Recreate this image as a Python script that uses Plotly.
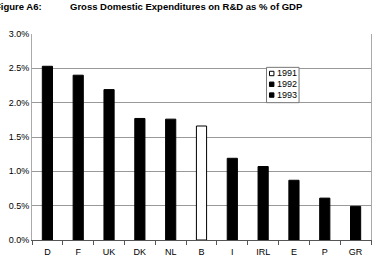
import plotly.graph_objects as go

countries = ["D", "F", "UK", "DK", "NL", "B", "I", "IRL", "E", "P", "GR"]
v1991 = [None, None, None, None, None, 1.66, None, None, None, None, None]
v1992 = [None, None, None, 1.77, 1.76, None, None, 1.07, None, 0.61, 0.49]
v1993 = [2.53, 2.40, 2.19, None, None, None, 1.19, None, 0.87, None, None]
series_names = ["1991", "1992", "1993"]
series_fill = ["white", "black", "black"]
yticks = [0, 0.5, 1.0, 1.5, 2.0, 2.5, 3.0]
yticklabels = ["0.0%", "0.5%", "1.0%", "1.5%", "2.0%", "2.5%", "3.0%"]

W, H = 381, 266
ML, MR, MT, MB = 28, 9, 34, 22
PW, PH = W - ML - MR, H - MT - MB

def px(x):
    return (x - ML) / PW

def py(y):
    return (H - MB - y) / PH

fig = go.Figure()
for name, vals, fill in zip(series_names, [v1991, v1992, v1993], series_fill):
    fig.add_bar(x=countries, y=vals, name=name, showlegend=False,
                marker=dict(color=fill, line=dict(color="black", width=1)))

fig.update_layout(
    width=W, height=H,
    margin=dict(l=ML, r=MR, t=MT, b=MB),
    barmode="overlay", bargap=0.67,
    plot_bgcolor="white", paper_bgcolor="white",
    font=dict(family="Liberation Sans, Arial", size=9, color="black"),
    showlegend=False,
)
fig.update_xaxes(showline=True, linecolor="#555", linewidth=1, ticks="outside",
                 tickson="boundaries", ticklen=4, tickcolor="#555",
                 showgrid=False, tickfont=dict(size=9), ticklabelstandoff=3)
fig.update_yaxes(range=[0, 3.0], tickvals=yticks, ticktext=yticklabels,
                 showgrid=True, gridcolor="#999", gridwidth=1,
                 showline=True, linecolor="#aaa", mirror=True,
                 ticks="", tickfont=dict(size=9), zeroline=False)

# custom compact legend
fig.add_shape(type="rect", xref="paper", yref="paper",
              x0=px(266), x1=px(299), y0=py(68), y1=py(104),
              line=dict(color="#777", width=1), fillcolor="white", layer="above")
for i, (name, fill) in enumerate(zip(series_names, series_fill)):
    cy = 74 + i * 11
    fig.add_shape(type="rect", xref="paper", yref="paper",
                  x0=px(269), x1=px(273.5), y0=py(cy - 2), y1=py(cy + 2.5),
                  line=dict(color="black", width=1), fillcolor=fill, layer="above")
    fig.add_annotation(text=name, xref="paper", yref="paper",
                       x=px(274.5), y=py(cy), xanchor="left", yanchor="middle",
                       showarrow=False, font=dict(size=9))

fig.add_annotation(text="<b>Figure A6:</b>", xref="paper", yref="paper",
                   x=px(40), y=py(5.5), xanchor="right", yanchor="middle",
                   showarrow=False, font=dict(size=9.5))
fig.add_annotation(text="<b>Gross Domestic Expenditures on R&D as % of GDP</b>", xref="paper", yref="paper",
                   x=px(65), y=py(5.5), xanchor="left", yanchor="middle",
                   showarrow=False, font=dict(size=9.5))

fig.write_html("out.html")
